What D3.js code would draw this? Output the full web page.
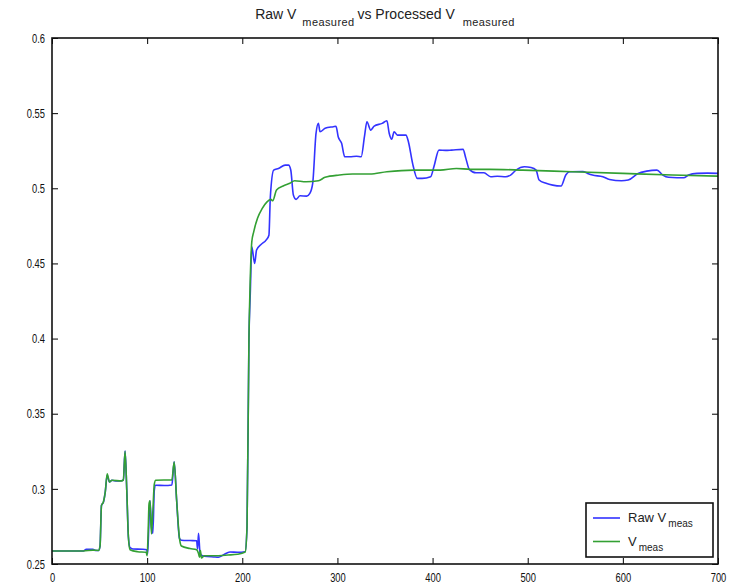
<!DOCTYPE html>
<html>
<head>
<meta charset="utf-8">
<script src="https://cdn.jsdelivr.net/npm/d3@7"></script>
<style>
  body { margin: 0; background: #fff; }
  svg { display: block; }
  .tick text { font-family: "Liberation Sans", Arial, sans-serif; font-size: 13px; fill: #111; }
  .title, .legend text { font-family: "Liberation Sans", Arial, sans-serif; fill: #222; }
</style>
</head>
<body>
<svg></svg>
<script>
var viewWidth = 739;
var viewHeight = 585;

// raw measurement (blue), [sample, volts]
var rawX = [0, 33, 36, 43, 46, 49, 50.5, 52, 54, 56, 58, 60.4, 63, 68, 73, 75, 76.8, 78.6, 80.3, 82, 85, 95, 99.5,
    100.5, 102, 103, 104.5, 106, 107.5, 109, 118, 126, 128.4, 131, 134, 136, 145, 152, 153, 154, 155.5, 157, 160, 170,
    175, 180, 187, 195, 203, 205, 207, 208.4, 210, 213, 215, 220, 225, 228, 229.5, 233, 238, 245, 248.6, 251, 253.7,
    256.5, 260.7, 267.7, 271, 274, 277.5, 280, 281.7, 287, 295.7, 298.5, 300.8, 304.4, 307.7, 313, 320, 325, 328.4,
    331, 335, 338.6, 347, 352, 354.4, 357, 359.6, 363, 372, 374.6, 379, 384, 389, 398, 401.4, 406.7, 413.7, 420, 432,
    435, 438.6, 445.6, 454, 461, 468, 477, 482, 487.7, 496.5, 503.5, 508.8, 512, 519.3, 526.3, 535, 540, 543.9, 558,
    563, 568, 579, 586, 598.6, 605.6, 616, 625, 635.8, 642, 648, 657, 664, 669, 678, 689, 700];
var rawY = [0.2587, 0.2587, 0.2597, 0.2597, 0.2590, 0.2590, 0.262, 0.289, 0.291, 0.298, 0.309, 0.3046, 0.3057, 0.3052,
    0.3054, 0.306, 0.3253, 0.299, 0.268, 0.2609, 0.2600, 0.2598, 0.2595,
    0.2565, 0.280, 0.292, 0.275, 0.2705, 0.299, 0.3024, 0.3022, 0.3026, 0.318, 0.2924, 0.2671, 0.2658, 0.2656, 0.2655,
    0.2600, 0.2704, 0.2580, 0.2558, 0.2552, 0.2547,
    0.2545, 0.2560, 0.2580, 0.2578, 0.2582, 0.275, 0.40, 0.43, 0.461, 0.450, 0.4589, 0.4628, 0.4655, 0.4688, 0.4944,
    0.5121, 0.5132, 0.5154, 0.5154, 0.512, 0.4955,
    0.4926, 0.495, 0.4948, 0.4966, 0.5033, 0.5366, 0.5432, 0.5376, 0.5399, 0.541, 0.5413, 0.5343, 0.5299, 0.521,
    0.521, 0.5213, 0.521, 0.5343,
    0.5443, 0.5387, 0.5414, 0.5432, 0.5449, 0.5366, 0.5326, 0.5376, 0.5354, 0.5354, 0.531, 0.5166, 0.5066, 0.5066,
    0.5077, 0.5143, 0.5254, 0.5252, 0.5254, 0.5259,
    0.5199, 0.5126, 0.5103, 0.5103, 0.5077, 0.508, 0.5077, 0.5088, 0.5121, 0.5143, 0.5138, 0.5121, 0.5055, 0.5033,
    0.5021, 0.5015, 0.5088, 0.511, 0.5112,
    0.5099, 0.5088, 0.5077, 0.5059, 0.505, 0.5055, 0.5099, 0.5114, 0.5121, 0.5088, 0.5073, 0.5070, 0.5070, 0.5088,
    0.5099, 0.5101, 0.5099];

// processed measurement (green)
var procX = [0, 33, 43, 49, 50.5, 52, 54, 56, 58, 60.4, 63, 73, 75, 76.8, 78.6, 80.3, 82, 90, 99, 100, 101, 102, 103,
    104.5, 106, 107.5, 109, 126, 128.4, 131, 134, 136, 145, 152, 154, 155, 156, 157, 160, 170, 185, 195, 203, 205, 207,
    208.4, 210, 212, 216, 221, 226, 230, 232, 236, 243, 250, 255, 267, 280, 287, 302, 316, 334, 352, 380, 408, 425,
    440, 460, 495, 547, 600, 652, 700];
var procY = [0.2587, 0.2587, 0.2592, 0.2590, 0.262, 0.289, 0.2913, 0.298, 0.310, 0.3046, 0.3057, 0.3053, 0.306, 0.325,
    0.299, 0.268, 0.2595, 0.2582, 0.2578, 0.2555, 0.270, 0.290, 0.292,
    0.270, 0.285, 0.303, 0.3057, 0.306, 0.3179, 0.2924, 0.2671, 0.2620, 0.2603, 0.2595, 0.2570, 0.2545, 0.2590, 0.2540,
    0.2555, 0.2555, 0.2560, 0.2565, 0.2580, 0.275, 0.40,
    0.44, 0.4644, 0.471, 0.48, 0.4866, 0.491, 0.4926, 0.4917, 0.4988, 0.5015, 0.5033, 0.505, 0.5043, 0.505, 0.5073,
    0.5088, 0.5095, 0.5095, 0.511, 0.5121, 0.5121, 0.5132,
    0.5126, 0.5126, 0.5121, 0.511, 0.5099, 0.5088, 0.5081];

var xTicks = [0, 100, 200, 300, 400, 500, 600, 700];
var yTicks = [0.25, 0.3, 0.35, 0.4, 0.45, 0.5, 0.55, 0.6];
var seriesNames = ["Raw V", "V"];
var seriesSub = ["meas", "meas"];
var seriesColors = ["#3333ff", "#33a033"];

var margin = {top: 38, right: 21, bottom: 21, left: 52};
var w = viewWidth - margin.left - margin.right;
var h = viewHeight - margin.top - margin.bottom;
var squeeze = 0.72; // tick labels are a narrow face in the original

var root = d3.select("svg")
    .attr("width", viewWidth)
    .attr("height", viewHeight);

var svg = root.append("g")
    .attr("transform", "translate(" + margin.left + "," + margin.top + ")");

var xScale = d3.scaleLinear().domain([0, 700]).range([0, w]);
var yScale = d3.scaleLinear().domain([0.25, 0.6]).range([h, 0]);

function drawAxis() {
    var fmtY = function (d) { return d3.format("")(+d.toFixed(2)); };

    var xAxis = svg.append("g")
        .attr("class", "axis")
        .attr("transform", "translate(0," + h + ")")
        .call(d3.axisBottom(xScale).tickValues(xTicks).tickSizeInner(-6).tickSizeOuter(0).tickPadding(9));
    xAxis.selectAll("text")
        .attr("transform", "scale(" + squeeze + ",1)");

    var yAxis = svg.append("g")
        .attr("class", "axis")
        .call(d3.axisLeft(yScale).tickValues(yTicks).tickFormat(fmtY).tickSizeInner(-6).tickSizeOuter(0));
    yAxis.selectAll("text")
        .attr("x", -7 / squeeze)
        .attr("transform", "scale(" + squeeze + ",1)");

    // mirrored ticks on top and right
    svg.append("g")
        .attr("class", "axis")
        .call(d3.axisTop(xScale).tickValues(xTicks).tickSizeInner(-6).tickSizeOuter(0).tickFormat(""));

    svg.append("g")
        .attr("class", "axis")
        .attr("transform", "translate(" + w + ",0)")
        .call(d3.axisRight(yScale).tickValues(yTicks).tickSizeInner(-6).tickSizeOuter(0).tickFormat(""));

    svg.selectAll(".axis .domain").remove();
    svg.selectAll(".axis line").attr("stroke", "#000").attr("stroke-width", 1);

    svg.append("rect")
        .attr("width", w)
        .attr("height", h)
        .attr("fill", "none")
        .attr("stroke", "#111")
        .attr("stroke-width", 1.6);
}

function drawLines() {
    var line = d3.line()
        .curve(d3.curveMonotoneX)
        .x(function (d) { return xScale(d[0]); })
        .y(function (d) { return yScale(d[1]); });

    var raw = d3.zip(rawX, rawY);
    var proc = d3.zip(procX, procY);

    svg.append("path")
        .datum(raw)
        .attr("d", line)
        .attr("fill", "none")
        .attr("stroke", seriesColors[0])
        .attr("stroke-width", 1.6)
        .attr("stroke-linejoin", "round");

    svg.append("path")
        .datum(proc)
        .attr("d", line)
        .attr("fill", "none")
        .attr("stroke", seriesColors[1])
        .attr("stroke-width", 1.6)
        .attr("stroke-linejoin", "round");
}

function drawTitle() {
    var t = root.append("text")
        .attr("class", "title")
        .attr("x", margin.left + w / 2)
        .attr("y", 19)
        .attr("text-anchor", "middle")
        .style("font-size", "14px");
    t.append("tspan").text("Raw V");
    t.append("tspan").attr("dx", 6).attr("dy", 7).style("font-size", "11px").style("letter-spacing", "0.4px").text("measured");
    t.append("tspan").attr("dx", 3).attr("dy", -7).text("vs Processed V");
    t.append("tspan").attr("dx", 8).attr("dy", 7).style("font-size", "11px").style("letter-spacing", "0.4px").text("measured");
}

function drawLegend() {
    var lx = 586, ly = 503, lw = 127, lh = 54;
    var legend = root.append("g").attr("class", "legend");

    legend.append("rect")
        .attr("x", lx)
        .attr("y", ly)
        .attr("width", lw)
        .attr("height", lh)
        .attr("fill", "#fff")
        .attr("stroke", "#111")
        .attr("stroke-width", 1.6);

    var items = legend.selectAll("g.item")
        .data(seriesNames)
        .enter()
        .append("g")
        .attr("class", "item")
        .attr("transform", function (d, i) { return "translate(" + lx + "," + (ly + 15 + i * 23.5) + ")"; });

    items.append("line")
        .attr("x1", 7)
        .attr("x2", 34)
        .attr("stroke", function (d, i) { return seriesColors[i]; })
        .attr("stroke-width", 1.6);

    var txt = items.append("text")
        .attr("x", 42)
        .attr("y", 4)
        .style("font-size", "13px");
    txt.append("tspan").text(function (d) { return d; });
    txt.append("tspan")
        .attr("dx", 2)
        .attr("dy", 5)
        .style("font-size", "10px")
        .text(function (d, i) { return seriesSub[i]; });
}

drawLines();
drawAxis();
drawTitle();
drawLegend();
</script>
</body>
</html>
